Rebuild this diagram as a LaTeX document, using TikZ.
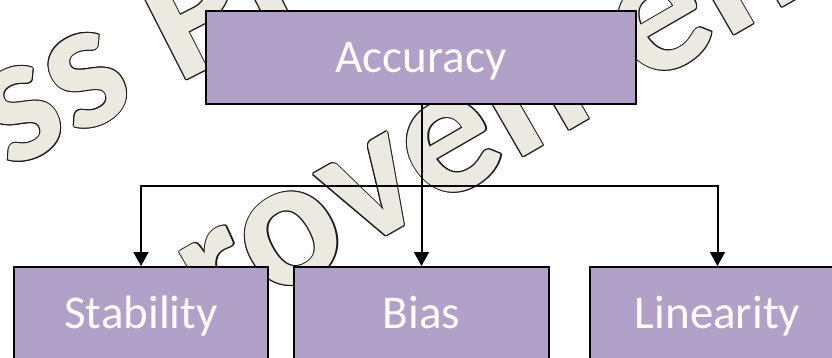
\documentclass[tikz,border=0pt]{standalone}
\usepackage{fontspec}
\setmainfont{Carlito}
\usetikzlibrary{arrows.meta}
\definecolor{boxfill}{HTML}{B1A0C7}
\definecolor{wmfill}{HTML}{ECEAE0}
\definecolor{wmline}{HTML}{1A1A1A}
% outlined lettering: dark copies around a light fill
\newcommand\wmglyphs[1]{%
  \rlap{\textcolor{wmline}{\hspace*{1.1pt}#1}}%
  \rlap{\textcolor{wmline}{\hspace*{-1.1pt}#1}}%
  \rlap{\textcolor{wmline}{\raisebox{1.1pt}{#1}}}%
  \rlap{\textcolor{wmline}{\raisebox{-1.1pt}{#1}}}%
  \rlap{\textcolor{wmline}{\hspace*{0.8pt}\raisebox{0.8pt}{#1}}}%
  \rlap{\textcolor{wmline}{\hspace*{-0.8pt}\raisebox{0.8pt}{#1}}}%
  \rlap{\textcolor{wmline}{\hspace*{0.8pt}\raisebox{-0.8pt}{#1}}}%
  \rlap{\textcolor{wmline}{\hspace*{-0.8pt}\raisebox{-0.8pt}{#1}}}%
  \textcolor{wmfill}{#1}}
\begin{document}
\begin{tikzpicture}[x=1pt,y=-1pt,
  box/.style={draw=black, line width=2pt, fill=boxfill, text=white,
    font=\fontsize{47}{56}\selectfont, text height=29.7pt, text depth=0pt,
    inner sep=0pt, align=center},
  link/.style={line width=2pt, -{Triangle[width=15pt,length=14pt]}},
  wm/.style={inner sep=0pt, font=\fontsize{185}{200}\selectfont\bfseries}]
\useasboundingbox (0,0) rectangle (832,358);
\clip (0,0) rectangle (832,358);

% background lettering, set along a gentle arc
\node[wm, rotate=27, anchor=base west] (wmtop) at (177,85)
  {\wmglyphs{\llap{Business }P\rlap{rocess}}};
\node[wm, rotate=30, anchor=base] (wmlow) at (395,231)
  {\wmglyphs{\llap{ro}v\rlap{ement}}};
\node[wm, rotate=36, anchor=base east] (wmlowa) at (220,332)
  {\wmglyphs{Imp}};

% boxes
\node[box, minimum width=430pt, minimum height=93pt] (acc) at (421,57.5) {Accuracy};
\node[box, minimum width=254pt, minimum height=93pt] (stab) at (141,313.5) {Stability};
\node[box, minimum width=255pt, minimum height=93pt] (bias) at (421.5,313.5) {Bias};
\node[box, minimum width=255pt, minimum height=93pt] (lin) at (717.5,313.5) {Linearity};

% connectors
\coordinate (bus) at (421.5,186);
\draw[link] (acc.south -| bias.north) -- (bias.north);
\draw[link] (bus) -| (stab.north);
\draw[link] (bus) -| (lin.north);
\end{tikzpicture}
\end{document}
